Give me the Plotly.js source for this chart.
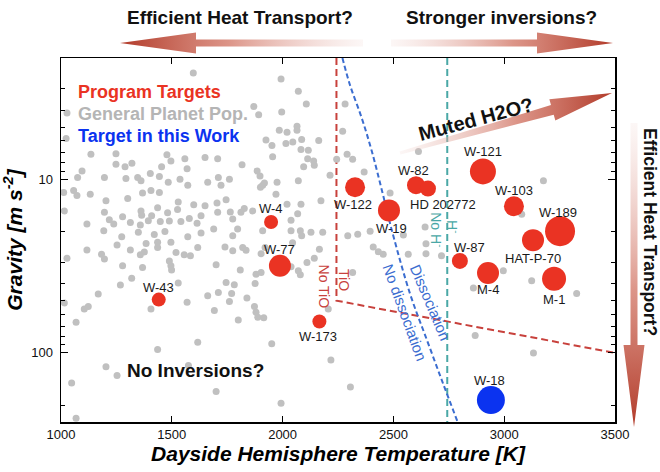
<!DOCTYPE html>
<html><head><meta charset="utf-8">
<script src="https://cdn.plot.ly/plotly-3.0.1.min.js"></script>
<style>html,body{margin:0;padding:0;background:#fff}</style>
</head><body>
<div id="chart" style="width:660px;height:472px"></div>
<script>
// ---- General planet population (gray) ----
const popTemp = [
1597,1027,1023,1135,1248,1478,1496,1559,1650,1248,1289,1320,1454,1569,1095,1075,1196,1293,1346,1361,1403,1444,1484,1537,1572,1662,1012,1057,1072,1132,1203,1301,1368,1406,1444,1529,1599,1650,1015,1196,1278,1361,1364,1409,1436,1481,1526,1579,1632,1117,1218,1238,1313,1358,1394,1448,1489,1541,1614,1193,1274,1349,1421,1469,1572,1632,
1993,2071,2107,1870,1892,1996,2065,2065,1985,2020,1925,1952,2015,2046,2086,2163,1955,2083,2116,2113,2140,2095,2143,1707,1817,1885,1898,1910,1900,1918,1975,2071,2214,2282,2271,2291,2316,2244,1710,1760,1722,1970,2020,2083,2173,1704,1745,1707,1764,1812,1827,1865,2038,2068,1775,1689,1797,1910,2038,2080,2128,2181,2294,2339,1775,2086,
1027,1117,1183,1196,1253,1313,1358,1376,1384,1436,1436,1496,1519,1556,1584,1617,1278,1368,1489,1496,1499,1319,1268,1529,1168,1015,1105,1123,1406,1569,1662,1068,1617,1436,1203,1253,1048,1575,1068,
1740,1775,1820,1835,1903,1921,2045,2166,1700,1809,1880,1903,2038,2071,2080,2110,2143,1745,1782,1876,1710,1770,1839,1760,1873,1880,1888,1915,1692,1800,2206,2316,1951,2218,2306,1993,1700,
2368,2485,2395,2643,2613,3177,3079,2996,2861,3124,3327,2869,3132,2409,2432,2454,2567,2647,2647,2717,2545
];
const popGrav = [
2.44,4.15,5.82,7.18,7.12,7.21,7.85,7.6,7.48,8.2,8.45,8.09,8.45,8.69,8.95,9.77,9.77,9.9,9.77,10.2,9.27,9.64,10.4,10.0,10.8,10.4,11.9,11.6,12.4,12.2,13.3,12.9,12.0,11.6,11.9,13.5,14.0,14.2,15.2,15.5,16.4,15.2,16.1,16.2,14.6,15.6,14.9,16.8,16.2,18.1,17.1,18.1,17.7,18.3,17.3,17.5,17.4,17.5,17.9,19.8,21.4,20.2,20.8,20.0,21.4,20.4,
2.64,3.11,3.68,3.8,4.24,4.09,4.94,5.21,5.21,5.35,5.94,6.38,6.21,6.1,5.89,5.97,7.41,6.73,6.79,7.6,7.85,8.45,8.3,7.6,8.24,8.95,9.57,10.8,11.1,10.5,10.4,10.2,9.48,3.68,5.28,7.18,7.67,7.67,9.77,10.0,10.8,12.2,13.9,13.9,13.3,13.7,13.1,15.5,15.4,15.5,14.7,15.2,17.2,15.8,16.9,19.3,19.3,19.8,19.8,19.8,20.2,20.2,21.1,20.7,21.1,21.1,
28.5,25.5,27.0,28.8,23.9,25.5,27.2,26.2,23.4,24.7,23.0,23.0,26.4,27.2,27.6,24.7,31.5,32.2,29.5,31.5,33.3,37.1,40.6,39.6,45.8,51.5,55.8,54.1,55.8,51.1,46.8,66.5,86.7,95.7,120,135,149,118,238,
24.5,25.8,24.7,25.6,26.8,24.7,23.2,25.3,31.1,33.3,35.2,34.4,31.9,33.6,35.5,30.1,28.5,39.3,40.5,39.8,44.8,45.4,48.3,50.5,54.1,58.3,62.2,62.8,57.0,64.6,55.8,34.4,88.5,110,157,195,167,
9.08,12.0,19.9,18.8,6.92,10.2,15.9,33.6,42.3,38.4,45.4,79.4,100,24.5,26.1,27.0,27.0,23.5,26.8,27.6,20.9
];

// ---- Program targets (red) ----
const targetNames = ['W-121','W-103','W-189','HAT-P-70','W-87','M-4','M-1','W-82','HD 202772','W-122','W-19','W-4','W-77','W-43','W-173'];
const targetTemp  = [2904,3044,3252,3130,2800,2927,3225,2602,2656,2327,2480,1948,1988,1441,2166];
const targetGrav  = [9.0,14.3,19.9,22.4,29.5,34.6,37.4,10.8,11.3,11.1,15.1,17.6,31.5,49.3,65.9];

// ---- Target in this work (blue) ----
const workNames = ['W-18'];
const workTemp  = [2940];
const workGrav  = [187];

// ---- Boundary curves ----
const tioTemp = [2243,2243,3500];
const tioGrav = [2,50,100];
const hminTemp = [2743,2743];
const hminGrav = [2,250];
const dissTemp = [2270,2304,2358,2403,2449,2494,2575,2652,2724,2790];
const dissGrav = [2,2.86,4.47,6.92,11.7,19.9,45.6,84.7,150,250];

const xTicks = [1000,1500,2000,2500,3000,3500];
const yTicks = [10,100];
const yTickText = ['10','100'];
const yMinor = [2,3,4,5,6,7,8,9,20,30,40,50,60,70,80,90,200];

// ---- styling (not data) ----
const targetMarkerPx = [26,20,30,22,16,22,24,18,16,20,22,14,22,14,14];
const workMarkerPx = [28];
const labelShift = [[0,20],[0,16],[-2,19],[0,-18],[10,13],[0,-17],[0,-21],[-3,15],[15,-16],[-2,-17],[3,-18],[0,13],[0,16],[0,12],[-1,-15]];
const workLabelShift = [[-1,20]];

const FONT = 'Liberation Sans, Arial, Helvetica, sans-serif';
const RED = '#ea3323';
const BLUE = '#0b33f0';
const GRAY = '#c0c0c0';
const ARROW = '#b23b2a';

function arrowPoly(x0,y0,x1,y1,tailHalf,shaftHalf,headHalf,headLen){
  const dx=x1-x0, dy=y1-y0, L=Math.hypot(dx,dy);
  const ux=dx/L, uy=dy/L, nx=-uy, ny=ux;
  const bx=x1-ux*headLen, by=y1-uy*headLen;
  const P=[[x0+nx*tailHalf,y0+ny*tailHalf],[bx+nx*shaftHalf,by+ny*shaftHalf],[bx+nx*headHalf,by+ny*headHalf],[x1,y1],
           [bx-nx*headHalf,by-ny*headHalf],[bx-nx*shaftHalf,by-ny*shaftHalf],[x0-nx*tailHalf,y0-ny*tailHalf],[x0+nx*tailHalf,y0+ny*tailHalf]];
  return {x:P.map(p=>p[0]), y:P.map(p=>p[1])};
}
const fadeToDark = [[0,'rgba(236,200,194,0.15)'],[0.55,'rgba(214,130,115,0.85)'],[1,ARROW]];
const darkToFade = [[0,ARROW],[0.45,'rgba(214,130,115,0.85)'],[1,'rgba(236,200,194,0.15)']];
function arrowTrace(poly, type, scale){
  return {x:poly.x, y:poly.y, xaxis:'x2', yaxis:'y2', mode:'lines', line:{width:0, color:'rgba(0,0,0,0)'},
          fill:'toself', fillcolor:ARROW, fillgradient:{type:type, colorscale:scale}, hoverinfo:'skip', showlegend:false};
}

const traces = [
  {x:tioTemp, y:tioGrav, mode:'lines', line:{color:'#c8413c', width:2, dash:'7px,4px'}, hoverinfo:'skip'},
  {x:hminTemp, y:hminGrav, mode:'lines', line:{color:'#4aa8a6', width:2, dash:'7px,4px'}, hoverinfo:'skip'},
  {x:dissTemp, y:dissGrav, mode:'lines', line:{color:'#3b6dd0', width:2, dash:'5px,3px', shape:'spline'}, hoverinfo:'skip'},
  {x:popTemp, y:popGrav, mode:'markers', marker:{color:GRAY, size:7, opacity:1}, hoverinfo:'skip'},
  {x:targetTemp, y:targetGrav, mode:'markers', marker:{color:RED, size:targetMarkerPx, opacity:1, line:{width:0}}, text:targetNames, hoverinfo:'text'},
  {x:workTemp, y:workGrav, mode:'markers', marker:{color:BLUE, size:workMarkerPx, opacity:1, line:{width:0}}, text:workNames, hoverinfo:'text'},
  arrowTrace(arrowPoly(363,43,120,43,3.5,3.5,10.5,76),'horizontal',darkToFade),
  arrowTrace(arrowPoly(391,43,613,43,3.5,3.5,10.5,76),'horizontal',fadeToDark),
  arrowTrace(arrowPoly(634,123,634,427,3.5,3.5,10.5,82),'vertical',darkToFade),
  arrowTrace(arrowPoly(400,153,612,93,1.5,5,11,62),'horizontal',fadeToDark)
];

const ann = [];
function lab(t,g,text,sx,sy,color,size,extra){
  ann.push(Object.assign({x:t, y:Math.log10(g), xref:'x', yref:'y', text:text, showarrow:false,
    xshift:sx, yshift:sy, font:{family:FONT, size:size, color:color}}, extra||{}));
}
targetNames.forEach((n,i)=>lab(targetTemp[i],targetGrav[i],n,labelShift[i][0],labelShift[i][1],'#1a1a1a',13));
workNames.forEach((n,i)=>lab(workTemp[i],workGrav[i],n,workLabelShift[i][0],workLabelShift[i][1],'#1a1a1a',13));
lab(2276,37.9,'TiO',0,0,'#c8413c',14,{textangle:90});
lab(2188,41.6,'No TiO',0,0,'#c8413c',14,{textangle:90});
lab(2769,18.6,'H<sup>-</sup>',0,0,'#4aa8a6',14,{textangle:90});
lab(2697,19.4,'No H<sup>-</sup>',0,0,'#4aa8a6',14,{textangle:90});
lab(2552,58.4,'No dissociation',0,0,'#3b6dd0',15,{textangle:70});
lab(2667,51.2,'Dissociation',0,0,'#3b6dd0',15,{textangle:67});

function pix(x,y,text,size,color,extra){
  ann.push(Object.assign({x:x, y:y, xref:'x2', yref:'y2', text:text, showarrow:false,
    font:{family:FONT, size:size, color:color}}, extra||{}));
}
pix(240,17,'<b>Efficient Heat Transport?</b>',19,'#111');
pix(501,17,'<b>Stronger inversions?</b>',19,'#111');
pix(650,232,'<b>Efficient Heat Transport?</b>',17.5,'#111',{textangle:90, borderpad:0});
pix(76,92,'<b>Program Targets</b>',18,RED,{xanchor:'left'});
pix(76,114,'<b>General Planet Pop.</b>',18,'#b5b5b5',{xanchor:'left'});
pix(76,136,'<b>Target in this Work</b>',18,BLUE,{xanchor:'left'});
pix(125,370,'<b>No Inversions?</b>',19,'#111',{xanchor:'left'});
pix(476,119,'<b>Muted H2O?</b>',20,'#111',{textangle:-15});

const layout = {
  width:660, height:472, margin:{l:0,r:0,t:0,b:0},
  paper_bgcolor:'#fff', plot_bgcolor:'rgba(0,0,0,0)', showlegend:false,
  font:{family:FONT, color:'#111'},
  xaxis:{domain:[61/660,615/660], range:[1000,3500], tickvals:xTicks, ticks:'inside', ticklen:6, tickcolor:'#000',
    showline:true, linecolor:'#000', linewidth:1.5, mirror:'ticks', showgrid:false, zeroline:false,
    tickfont:{size:13, color:'#111'}, anchor:'y',
    title:{text:'<b><i>Dayside Hemisphere Temperature [K]</i></b>', font:{size:21, color:'#000'}, standoff:4}},
  yaxis:{domain:[1-422/472,1-58/472], type:'log', range:[Math.log10(250),Math.log10(2)], tickvals:yTicks, ticktext:yTickText,
    ticks:'inside', ticklen:7, tickcolor:'#000', showline:true, linecolor:'#000', linewidth:1.5, mirror:'ticks',
    showgrid:false, zeroline:false, tickfont:{size:13, color:'#111'}, anchor:'x', ticklabelstandoff:4,
    minor:{tickmode:'array', tickvals:yMinor, ticks:'inside', ticklen:4, tickcolor:'#000', showgrid:false},
    title:{text:'<b><i>Gravity [m s<sup>-2</sup>]</i></b>', font:{size:21, color:'#000'}, standoff:6}},
  xaxis2:{domain:[0,1], range:[0,660], visible:false, anchor:'y2', fixedrange:true},
  yaxis2:{domain:[0,1], range:[472,0], visible:false, anchor:'x2', fixedrange:true},
  annotations:ann
};
Plotly.newPlot('chart', traces, layout, {displayModeBar:false, staticPlot:true});
</script>
</body></html>
